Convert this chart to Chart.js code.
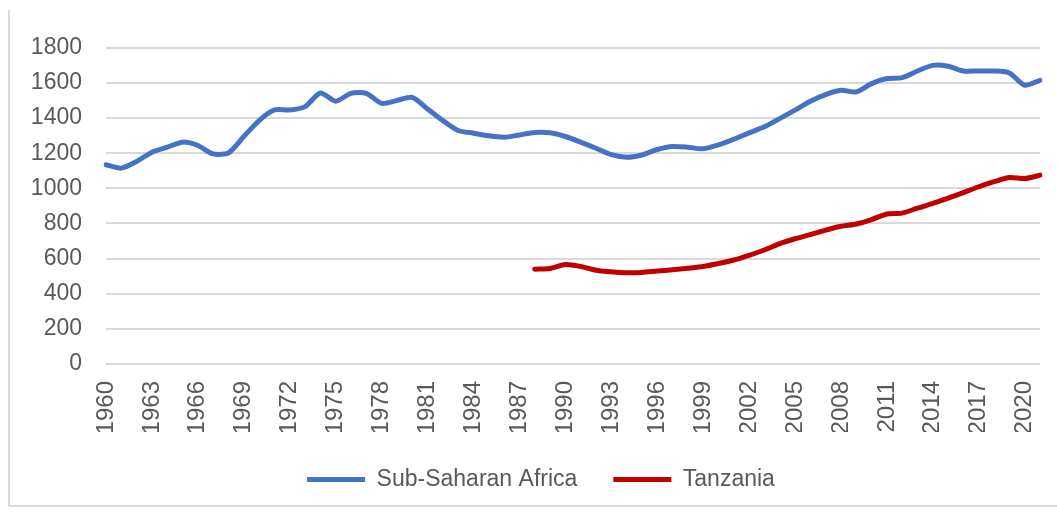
<!DOCTYPE html>
<html>
<head>
<meta charset="utf-8">
<script src="https://cdn.jsdelivr.net/npm/chart.js@4/dist/chart.umd.min.js"></script>
<style>
    html, body { margin: 0; padding: 0; background: #fff; }
    #frame {
        position: absolute;
        left: 8px;
        top: 10px;
        width: 1047px;
        height: 495px;
        border-left: 2px solid #d9d9d9;
        border-bottom: 2px solid #d9d9d9;
    }
</style>
</head>
<body>
<div id="frame"><canvas id="gdpChart"></canvas></div>
<script>
var years = [
    '1960', '1961', '1962', '1963', '1964', '1965', '1966', '1967', '1968', '1969',
    '1970', '1971', '1972', '1973', '1974', '1975', '1976', '1977', '1978', '1979',
    '1980', '1981', '1982', '1983', '1984', '1985', '1986', '1987', '1988', '1989',
    '1990', '1991', '1992', '1993', '1994', '1995', '1996', '1997', '1998', '1999',
    '2000', '2001', '2002', '2003', '2004', '2005', '2006', '2007', '2008', '2009',
    '2010', '2011', '2012', '2013', '2014', '2015', '2016', '2017', '2018', '2019',
    '2020', '2021'
];
var tickYears = ['1960', '1963', '1966', '1969', '1972', '1975', '1978', '1981', '1984', '1987',
    '1990', '1993', '1996', '1999', '2002', '2005', '2008', '2011', '2014', '2017', '2020'];

var subSaharan = [
    1134, 1115, 1153, 1206, 1234, 1263, 1244, 1196, 1202, 1295,
    1386, 1446, 1446, 1465, 1543, 1496, 1541, 1541, 1484, 1500,
    1518, 1452, 1386, 1329, 1314, 1299, 1291, 1304, 1318, 1316,
    1295, 1263, 1228, 1192, 1177, 1190, 1221, 1238, 1234, 1225,
    1247, 1280, 1316, 1350, 1397, 1445, 1496, 1534, 1558, 1549,
    1596, 1625, 1630, 1668, 1700, 1695, 1668, 1668, 1668, 1657,
    1587, 1615
];
var tanzania = [
    null, null, null, null, null, null, null, null, null, null,
    null, null, null, null, null, null, null, null, null, null,
    null, null, null, null, null, null, null, null, 540, 544,
    566, 555, 534, 525, 519, 521, 529, 536, 545, 555,
    572, 592, 619, 649, 685, 713, 737, 762, 784, 797,
    822, 854, 859, 887, 914, 944, 976, 1009, 1038, 1062,
    1056, 1075
];

var textColor = '#595959';
var gridColor = '#d9d9d9';
var fontFamily = '"Liberation Sans", Arial, sans-serif';

// nudge the legend a little to the right, like the original
var legendShift = {
    id: 'legendShift',
    afterLayout: function (chart) {
        chart.legend.left += 7;
        chart.legend.right += 7;
    }
};

var ctx = document.getElementById('gdpChart').getContext('2d');
var gdpChart = new Chart(ctx, {
    type: 'line',
    data: {
        labels: years,
        datasets: [
            {
                label: 'Sub-Saharan Africa',
                data: subSaharan,
                borderColor: '#4472c4',
                backgroundColor: '#4472c4',
                borderWidth: 5,
                borderCapStyle: 'round',
                pointRadius: 0,
                tension: 0.25
            },
            {
                label: 'Tanzania',
                data: tanzania,
                borderColor: '#c00000',
                backgroundColor: '#c00000',
                borderWidth: 5,
                borderCapStyle: 'round',
                pointRadius: 0,
                tension: 0.25
            }
        ]
    },
    options: {
        responsive: true,
        maintainAspectRatio: false,
        animation: false,
        layout: {
            padding: { top: 37, right: 17, left: 18, bottom: 4 }
        },
        plugins: {
            tooltip: { enabled: false },
            legend: {
                position: 'bottom',
                labels: {
                    usePointStyle: true,
                    pointStyle: 'line',
                    pointStyleWidth: 58,
                    padding: 36,
                    color: textColor,
                    font: { family: fontFamily, size: 23 }
                }
            }
        },
        scales: {
            x: {
                grid: { display: false, drawTicks: false },
                border: { display: false },
                ticks: {
                    autoSkip: false,
                    minRotation: 90,
                    maxRotation: 90,
                    padding: 17,
                    color: textColor,
                    font: { family: fontFamily, size: 24 },
                    callback: function (value) {
                        var label = this.getLabelForValue(value);
                        return tickYears.indexOf(label) >= 0 ? label : '';
                    }
                },
                afterFit: function (scale) {
                    scale.height = 68;
                    scale.paddingLeft = 0;
                    scale.paddingRight = 0;
                }
            },
            y: {
                min: 0,
                max: 1800,
                grid: { color: gridColor, lineWidth: 2, drawTicks: false },
                border: { display: false },
                ticks: {
                    stepSize: 200,
                    padding: 24,
                    color: textColor,
                    font: { family: fontFamily, size: 23 },
                    callback: function (value) { return String(value); }
                },
                afterFit: function (scale) { scale.width = 78; }
            }
        }
    },
    plugins: [legendShift]
});
</script>
</body>
</html>
